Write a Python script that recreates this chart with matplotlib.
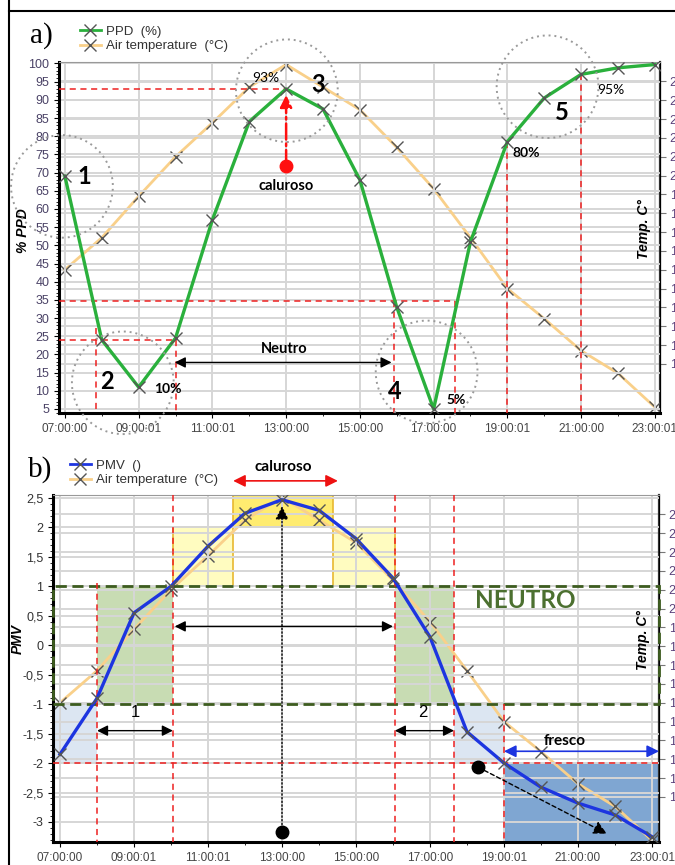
import matplotlib.pyplot as plt
from matplotlib.lines import Line2D
from matplotlib.patches import Ellipse, Rectangle
from matplotlib.ticker import MultipleLocator

plt.rcParams['font.family'] = ['Liberation Sans', 'DejaVu Sans']

# hourly data, 07:00 .. 23:00
hours = list(range(7, 24))
tick_hours = [7, 9, 11, 13, 15, 17, 19, 21, 23]
tick_labels = ['07:00:00', '09:00:01', '11:00:01', '13:00:00', '15:00:00',
               '17:00:00', '19:00:01', '21:00:00', '23:00:01']
ppd = [69, 24, 11, 24.5, 57, 84, 93, 87.5, 68, 33, 5, 51, 78.5, 90.5, 97, 98.8, 99.7]
pmv = [-1.85, -0.9, 0.55, 1.0, 1.68, 2.24, 2.47, 2.29, 1.81, 1.14, 0.14, -1.47,
       -2.0, -2.41, -2.68, -2.88, -3.25]
air_temp = [15.0, 16.7, 18.9, 21.0, 22.8, 24.7, 25.9, 24.7, 23.5, 21.5, 19.3, 16.7,
            14.0, 12.4, 10.7, 9.5, 7.7]
ppd_ticks = list(range(5, 101, 5))
pmv_ticks = [2.5, 2, 1.5, 1, 0.5, 0, -0.5, -1, -1.5, -2, -2.5, -3]
temp_ticks = list(range(10, 26))

GREEN = '#2ab03c'
BLUE = '#1d35e0'
ORANGE = '#f9d08a'
MARK = '#555555'
GRID = '#d6d6d6'
DKGREEN = '#3d5c1f'

fig = plt.figure(figsize=(6.75, 8.65), dpi=100)


def style_axes(ax, ax2, xlim):
    ax.set_xlim(*xlim)
    ax.set_xticks(tick_hours)
    ax.set_xticklabels(tick_labels, fontsize=8.5, color='#444444')
    ax.xaxis.set_minor_locator(MultipleLocator(1))
    ax.grid(True, which='major', color=GRID, lw=1.4, zorder=0)
    ax2.grid(True, axis='y', color=GRID, lw=1.4, zorder=0)
    for s in ['left', 'bottom']:
        ax.spines[s].set_linewidth(2.2)
    ax.spines['top'].set_color('#999999')
    ax2.spines['top'].set_visible(False)
    ax2.spines['right'].set_linewidth(1.6)
    ax2.spines['right'].set_color('#333333')
    ax.tick_params(axis='y', which='minor', length=2)
    ax2.set_yticks(temp_ticks)
    ax2.set_yticklabels([str(t) for t in temp_ticks], fontsize=9, color='#5a3f7a')
    ax2.tick_params(axis='y', length=4, pad=3, color='#777777')
    ax.set_zorder(ax2.get_zorder() + 1)
    ax.patch.set_visible(False)


# ---------------- a) PPD ----------------
ax = fig.add_axes([59 / 675, 1 - 413 / 865, 601 / 675, 351 / 865])
ax2 = ax.twinx()
ax.set_ylim(3.9, 100.4)
ax2.set_ylim([(v + 34.35) / 5.176 for v in ax.get_ylim()])
style_axes(ax, ax2, (6.84, 23.14))
ax.set_yticks(ppd_ticks)
ax.set_yticklabels([str(t) for t in ppd_ticks], fontsize=9, color='#4a4266')
ax.yaxis.set_minor_locator(MultipleLocator(1))
ax.set_ylabel('% PPD', fontsize=10, fontweight='bold', style='italic')
ax.yaxis.set_label_coords(-0.048, 0.52)

ax2.plot(hours, air_temp, color=ORANGE, lw=2, zorder=2)
ax.plot(hours, ppd, color=GREEN, lw=2.4, zorder=4)
ax.plot(hours, ppd, ls='none', marker='x', ms=9, mew=1, color=MARK, zorder=5)
ax2.plot(hours, air_temp, ls='none', marker='x', ms=9, mew=1, color=MARK, zorder=3)

red = dict(color='#ee2020', lw=1.1, ls=(0, (4, 3)), zorder=3)
ax.plot([6.84, 13], [93, 93], **red)
ax.plot([6.84, 17.57], [34.6, 34.6], **red)
ax.plot([6.84, 10], [24.1, 24.1], **red)
ax.plot([7.84, 7.84], [27.4, 3.9], **red)
ax.plot([10, 10], [24.1, 3.9], **red)
ax.plot([15.92, 15.92], [34.6, 3.9], **red)
ax.plot([17.57, 17.57], [34.6, 3.9], **red)
ax.plot([19, 19], [78.5, 3.9], **red)
ax.plot([21, 21], [97, 3.9], **red)

for cx, cy in [(6.92, 66.2), (8.57, 12.2), (13.02, 92.5), (16.81, 15.2), (20.09, 93.6)]:
    ax.add_patch(Ellipse((cx, cy), 2.76, 28.2, fill=False, ec='#9a9a9a', lw=1.4,
                         ls=(0, (1, 2)), clip_on=False, zorder=6))

big = dict(fontsize=17, fontweight='bold', family='Lato', ha='center', va='center', zorder=7)
ax.text(7.54, 69, '1', **big)
ax.text(8.14, 12.5, '2', **big)
ax.text(13.86, 94.2, '3', **big)
ax.text(15.94, 9.7, '4', **big)
ax.text(20.47, 86.4, '5', **big)
pct = dict(fontsize=10, family='Lato', ha='center', va='center', zorder=7)
ax.text(12.45, 95.9, '93%', **pct)
ax.text(9.8, 10.6, '10%', fontweight='bold', **pct)
ax.text(17.62, 7.5, '5%', fontweight='bold', **pct)
ax.text(19.52, 75.4, '80%', fontweight='bold', **pct)
ax.text(21.8, 92.8, '95%', **pct)
ax.text(13.0, 66.4, 'caluroso', fontsize=10.5, fontweight='bold', family='Lato',
        ha='center', va='center', zorder=7)
ax.text(12.96, 21.6, 'Neutro', fontsize=10.5, fontweight='bold', family='Lato',
        ha='center', va='center', zorder=7)
ax.annotate('', xy=(15.86, 17.8), xytext=(9.98, 17.8), zorder=7,
            arrowprops=dict(arrowstyle='<|-|>', color='black', lw=1, mutation_scale=16,
                            shrinkA=0, shrinkB=0))
ax.plot([13], [71.8], 'o', color='#ff1010', ms=9, zorder=7)
ax.annotate('', xy=(13, 91.3), xytext=(13, 71.8), zorder=7,
            arrowprops=dict(arrowstyle='-|>', color='#ff1010', lw=1.8, ls='-.',
                            mutation_scale=18, shrinkA=0, shrinkB=0))
ax.text(22.7, 54.6, 'Temp. C°', rotation=90, fontsize=10, fontweight='bold',
        style='italic', ha='center', va='center', zorder=7)

handles = [Line2D([], [], color=GREEN, lw=2, marker='x', ms=9, mec=MARK),
           Line2D([], [], color=ORANGE, lw=2, marker='x', ms=9, mec=MARK)]
fig.legend(handles, ['PPD  (%)', 'Air temperature  (°C)'], loc='upper left',
           bbox_to_anchor=(68 / 675, 1 - 14 / 865), frameon=False, fontsize=9.5,
           handlelength=1.6, handletextpad=0.4, labelspacing=0.15,
           labelcolor='#333333')
fig.text(30 / 675, 1 - 36 / 865, 'a)', fontsize=21, family='Liberation Serif',
         ha='left', va='center')

# ---------------- b) PMV ----------------
bx = fig.add_axes([53 / 675, 1 - 842 / 865, 606 / 675, 347 / 865])
bx2 = bx.twinx()
bx.set_ylim(-3.34, 2.55)
bx2.set_ylim([(v + 5.773) / 0.3198 for v in bx.get_ylim()])
style_axes(bx, bx2, (6.81, 23.19))
bx.set_yticks(pmv_ticks)
bx.set_yticklabels([f'{t:g}'.replace('.', ',') for t in pmv_ticks], fontsize=9,
                   color='#333333')
bx.yaxis.set_minor_locator(MultipleLocator(0.1))
bx.set_ylabel('PMV', fontsize=10, fontweight='bold', style='italic')
bx.yaxis.set_label_coords(-0.046, 0.585)

ylo, yhi = bx.get_ylim()
xlo, xhi = bx.get_xlim()
rects = [
    (xlo, -2, 8.0 - xlo, 1, '#dce6f2', 'none'),
    (8.0, -1, 2.05, 2, '#c8dcb3', 'none'),
    (10.05, 1, 1.63, 1, '#fffcc0', '#e8b830'),
    (11.68, 2, 2.7, 0.56, '#ffec70', '#e8b830'),
    (14.38, 1, 1.67, 1, '#fffcc0', '#e8b830'),
    (16.05, -1, 1.6, 2, '#c8dcb3', 'none'),
    (17.65, -2, 1.35, 1, '#dce6f2', 'none'),
    (19.0, ylo, xhi - 19.0, -2 - ylo, '#7fa6d2', 'none'),
]
# shaded zones sit under the temperature line, so they live on the twin axes
for x0, y0, w, h, fc, ec in rects:
    bx2.add_patch(Rectangle((x0, y0), w, h, fc=fc, ec=ec, lw=1.2, zorder=1,
                            transform=bx.transData))
bx.add_patch(Rectangle((xlo, -1), xhi - xlo, 2, fill=False, ec=DKGREEN, lw=2,
                       ls=(0, (4, 2)), zorder=3, clip_on=False))

bx2.plot(hours, air_temp, color=ORANGE, lw=2, zorder=2)
bx.plot(hours, pmv, color=BLUE, lw=2.4, zorder=4)
bx.plot(hours, pmv, ls='none', marker='x', ms=9, mew=1, color=MARK, zorder=5)
bx2.plot(hours, air_temp, ls='none', marker='x', ms=9, mew=1, color=MARK, zorder=3)

bx.plot([xlo, xhi], [-2, -2], **red)
bx.plot([8.0, 8.0], [1.05, ylo], **red)
bx.plot([10.05, 10.05], [yhi, ylo], **red)
bx.plot([16.05, 16.05], [yhi, ylo], **red)
bx.plot([17.65, 17.65], [yhi, ylo], **red)
bx.plot([19.0, 19.0], [-1, ylo], **red)

arr = dict(arrowstyle='<|-|>', color='black', lw=1, mutation_scale=16, shrinkA=0, shrinkB=0)
bx.annotate('', xy=(10.05, -1.45), xytext=(8.0, -1.45), arrowprops=arr, zorder=7)
bx.annotate('', xy=(17.65, -1.45), xytext=(16.05, -1.45), arrowprops=arr, zorder=7)
bx.annotate('', xy=(16.0, 0.32), xytext=(10.1, 0.32), arrowprops=arr, zorder=7)
bx.text(9.03, -1.14, '1', fontsize=12, ha='center', va='center', zorder=7)
bx.text(16.81, -1.14, '2', fontsize=12, ha='center', va='center', zorder=7)
bx.annotate('', xy=(xhi, -1.8), xytext=(19.0, -1.8), zorder=7, annotation_clip=False,
            arrowprops=dict(arrowstyle='<|-|>', color=BLUE, lw=1.2, mutation_scale=18,
                            shrinkA=0, shrinkB=0))
bx.text(20.65, -1.63, 'fresco', fontsize=11, fontweight='bold', family='Lato',
        ha='center', va='center', zorder=7)
bx.annotate('', xy=(14.51, 2.79), xytext=(11.68, 2.79), zorder=7, annotation_clip=False,
            arrowprops=dict(arrowstyle='<|-|>', color='#ee1111', lw=1.2, mutation_scale=18,
                            shrinkA=0, shrinkB=0))
bx.text(13.03, 3.03, 'caluroso', fontsize=11, fontweight='bold', family='Lato',
        ha='center', va='center', zorder=7, clip_on=False)
bx.text(19.57, 0.76, 'NEUTRO', fontsize=17.5, fontweight='bold', family='Lato',
        color='#4c7030', ha='center', va='center', zorder=7)

bx.plot([13], [-3.17], 'o', color='black', ms=9, zorder=7)
bx.annotate('', xy=(13, 2.36), xytext=(13, -3.17), zorder=7,
            arrowprops=dict(arrowstyle='-|>', color='black', lw=1, ls=':',
                            mutation_scale=20, shrinkA=0, shrinkB=0))
bx.plot([18.3], [-2.07], 'o', color='black', ms=9, zorder=7)
bx.annotate('', xy=(21.78, -3.2), xytext=(18.3, -2.07), zorder=7,
            arrowprops=dict(arrowstyle='-|>', color='black', lw=1, ls=(0, (3, 2)),
                            mutation_scale=20, shrinkA=0, shrinkB=0))
bx.text(22.75, 0.09, 'Temp. C°', rotation=90, fontsize=10, fontweight='bold',
        style='italic', ha='center', va='center', zorder=7)

handles = [Line2D([], [], color=BLUE, lw=2, marker='x', ms=9, mec=MARK),
           Line2D([], [], color=ORANGE, lw=2, marker='x', ms=9, mec=MARK)]
fig.legend(handles, ['PMV  ()', 'Air temperature  (°C)'], loc='upper left',
           bbox_to_anchor=(58 / 675, 1 - 448 / 865), frameon=False, fontsize=9.5,
           handlelength=1.6, handletextpad=0.4, labelspacing=0.15,
           labelcolor='#333333')
fig.text(28 / 675, 1 - 470 / 865, 'b)', fontsize=21, family='Liberation Serif',
         ha='left', va='center')

# page frame lines
fig.add_artist(Line2D([9 / 675, 9 / 675], [0, 1], transform=fig.transFigure,
                      color='black', lw=1.5))
fig.add_artist(Line2D([9 / 675, 1], [1 - 11 / 865, 1 - 11 / 865],
                      transform=fig.transFigure, color='black', lw=1.5))

fig.savefig('out.png', dpi=100)
